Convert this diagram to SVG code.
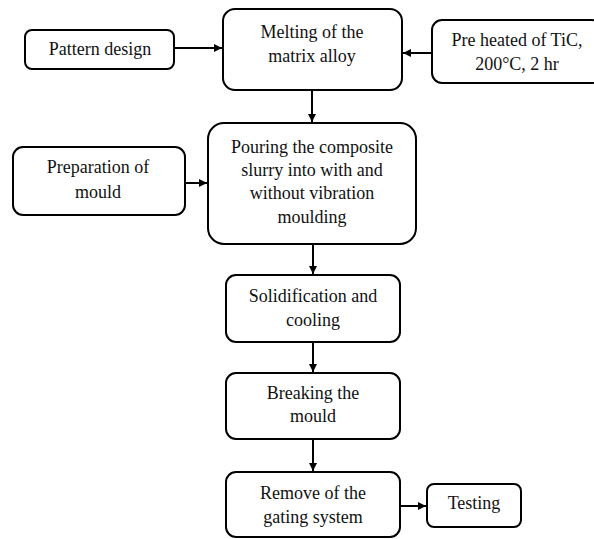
<svg xmlns="http://www.w3.org/2000/svg" width="594" height="539" viewBox="0 0 594 539">
<style>
.box{fill:#fff;stroke:#000;stroke-width:2}
text{font-family:"Liberation Serif","Times New Roman",serif;font-size:18px;fill:#111;text-anchor:middle}
.c{stroke:#000;stroke-width:2;fill:none}
</style>
<defs>
<marker id="ah" viewBox="0 0 10 10" refX="10" refY="5" markerWidth="8" markerHeight="8" orient="auto" markerUnits="userSpaceOnUse">
<path d="M0,0 L10,5 L0,10 z" fill="#000"/>
</marker>
</defs>
<rect width="594" height="539" fill="#fff"/>
<g id="connectors">
<line class="c" x1="174" y1="48" x2="222" y2="48" marker-end="url(#ah)"/>
<line class="c" x1="432" y1="53" x2="403" y2="53" marker-end="url(#ah)"/>
<line class="c" x1="312" y1="90" x2="312" y2="122" marker-end="url(#ah)"/>
<line class="c" x1="185" y1="183" x2="207" y2="183" marker-end="url(#ah)"/>
<line class="c" x1="313" y1="244" x2="313" y2="274" marker-end="url(#ah)"/>
<line class="c" x1="313" y1="342" x2="313" y2="372" marker-end="url(#ah)"/>
<line class="c" x1="313" y1="439" x2="313" y2="471" marker-end="url(#ah)"/>
<line class="c" x1="400" y1="506" x2="426" y2="506" marker-end="url(#ah)"/>
</g>
<g id="pattern">
<rect class="box" x="25" y="30" width="149" height="39" rx="7"/>
<text x="100" y="55">Pattern design</text>
</g>
<g id="melting">
<rect class="box" x="223" y="9" width="179" height="81" rx="12"/>
<text x="312" y="38">Melting of the</text>
<text x="312" y="62">matrix alloy</text>
</g>
<g id="preheat">
<rect class="box" x="432" y="20" width="170" height="63" rx="10"/>
<text x="517" y="46">Pre heated of TiC,</text>
<text x="517" y="70">200°C, 2 hr</text>
</g>
<g id="preparation">
<rect class="box" x="13" y="147" width="172" height="68" rx="10"/>
<text x="98" y="173">Preparation of</text>
<text x="98" y="198">mould</text>
</g>
<g id="pouring">
<rect class="box" x="208" y="123" width="208" height="121" rx="16"/>
<text x="312" y="153">Pouring the composite</text>
<text x="312" y="176">slurry into with and</text>
<text x="312" y="199">without vibration</text>
<text x="312" y="223">moulding</text>
</g>
<g id="solidification">
<rect class="box" x="226" y="275" width="174" height="67" rx="10"/>
<text x="313" y="302">Solidification and</text>
<text x="313" y="326">cooling</text>
</g>
<g id="breaking">
<rect class="box" x="226" y="373" width="174" height="66" rx="10"/>
<text x="313" y="399">Breaking the</text>
<text x="313" y="422">mould</text>
</g>
<g id="remove">
<rect class="box" x="226" y="472" width="174" height="65" rx="10"/>
<text x="313" y="499">Remove of the</text>
<text x="313" y="523">gating system</text>
</g>
<g id="testing">
<rect class="box" x="427" y="484" width="94" height="43" rx="7"/>
<text x="474" y="509">Testing</text>
</g>
</svg>
